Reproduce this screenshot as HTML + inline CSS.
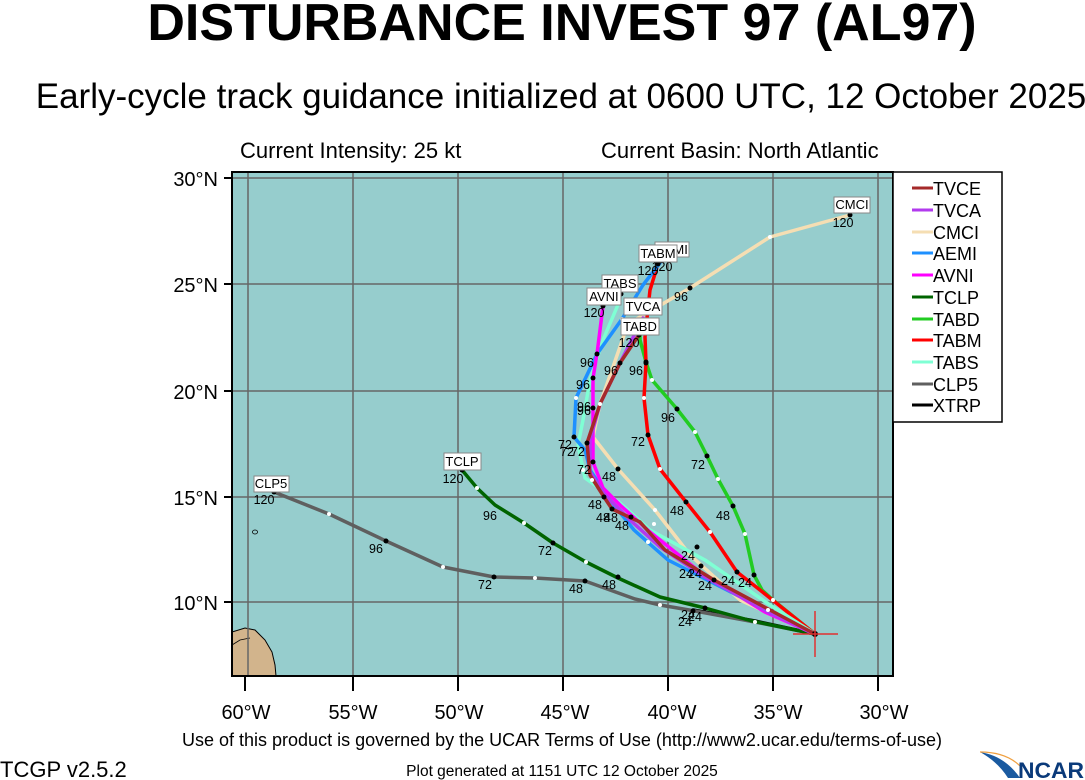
<!DOCTYPE html>
<html><head><meta charset="utf-8"><style>
html,body{margin:0;padding:0;background:#fff;}
svg{display:block;font-family:"Liberation Sans",Arial,sans-serif;}
</style></head><body>
<svg width="1085" height="780" viewBox="0 0 1085 780" xmlns="http://www.w3.org/2000/svg">
<rect width="1085" height="780" fill="#fff"/>
<text x="562" y="40" font-size="52" font-weight="bold" text-anchor="middle">DISTURBANCE INVEST 97 (AL97)</text>
<text x="561" y="108" font-size="35" text-anchor="middle">Early-cycle track guidance initialized at 0600 UTC, 12 October 2025</text>
<text x="240" y="158" font-size="22">Current Intensity: 25 kt</text>
<text x="601" y="158" font-size="22">Current Basin: North Atlantic</text>

<defs><clipPath id="m"><rect x="232" y="172" width="661" height="504"/></clipPath></defs>
<rect x="232" y="172" width="661" height="504" fill="#96cdcd"/>
<g clip-path="url(#m)">
<path d="M232,632 L245,628 L255,630 L265,640 L272,652 L275,665 L276,676 L232,676 Z" fill="#d2b48c" stroke="#000" stroke-width="1"/>
<path d="M232,645 L240,640 L250,638" fill="none" stroke="#000" stroke-width="0.8"/>
<ellipse cx="255" cy="532" rx="2.5" ry="2" fill="none" stroke="#000" stroke-width="0.8"/>
<g stroke="#666" stroke-width="1.5">
<line x1="248" y1="172" x2="248" y2="676"/><line x1="353" y1="172" x2="353" y2="676"/><line x1="458" y1="172" x2="458" y2="676"/><line x1="563" y1="172" x2="563" y2="676"/><line x1="668" y1="172" x2="668" y2="676"/><line x1="773" y1="172" x2="773" y2="676"/><line x1="878" y1="172" x2="878" y2="676"/>
<line x1="232" y1="178" x2="893" y2="178"/><line x1="232" y1="284" x2="893" y2="284"/><line x1="232" y1="391" x2="893" y2="391"/><line x1="232" y1="497" x2="893" y2="497"/><line x1="232" y1="602" x2="893" y2="602"/>
</g>
<g fill="none" stroke-width="3.5" stroke-linejoin="round" stroke-linecap="round">
<polyline stroke="#000" points="815,634 755,621 693,610"/>
<polyline stroke="#5f5f5f" points="815,634 755,622 695,611 660,605 635,599 585,581 535,578 494,577 443,567 386,541 329,514 274,492"/>
<polyline stroke="#006400" points="815,634 752,621 705,608 660,597 618,578 586,562 553,543 524,523 495,505 477,488 462,470"/>
<polyline stroke="#f5deb3" points="815,634 740,600 690,555 655,510 618,469 593,437 600,404 628,324 690,288 770,237 850,215"/>
<polyline stroke="#22cc22" points="815,634 773,600 762,590 754,575 745,534 733,506 718,479 707,456 695,432 677,409 652,380 646,362 640,340 640,327"/>
<polyline stroke="#ff0000" points="815,634 760,590 737,572 710,532 686,502 660,469 648,435 644,398 646,363 645,337 650,290 658,264"/>
<polyline stroke="#7fffd4" points="815,634 770,605 705,560 650,530 620,503 585,478 578,445 583,420 590,380 603,340 620,300"/>
<polyline stroke="#1e90ff" points="815,634 770,612 668,560 634,530 610,500 590,470 585,450 574,437 576,398 597,354 622,319 643,285 660,263"/>
<polyline stroke="#ff00ff" points="815,634 765,612 700,572 650,532 620,505 603,488 593,462 593,420 593,378 597,354 603,306"/>
<polyline stroke="#b23aee" points="815,634 768,612 705,577 660,547 630,520 605,495 590,472 590,440 600,404 620,363 643,318"/>
<polyline stroke="#a52a2a" points="815,634 770,610 714,580 665,550 640,522 612,509 604,497 590,475 587,443 600,404 620,363 639,335"/>
</g>
<g fill="#000">
<circle cx="815" cy="634" r="3"/>
<circle cx="705" cy="608" r="2.5"/><circle cx="618" cy="577" r="2.5"/><circle cx="553" cy="543" r="2.5"/><circle cx="462" cy="470" r="2.5"/>
<circle cx="693" cy="611" r="2.5"/><circle cx="585" cy="581" r="2.5"/><circle cx="494" cy="577" r="2.5"/><circle cx="386" cy="541" r="2.5"/><circle cx="274" cy="492" r="2.5"/>
<circle cx="690" cy="288" r="2.5"/><circle cx="850" cy="215" r="2.5"/><circle cx="618" cy="469" r="2.5"/><circle cx="697" cy="547" r="2.5"/>
<circle cx="754" cy="575" r="2.5"/><circle cx="733" cy="506" r="2.5"/><circle cx="707" cy="456" r="2.5"/><circle cx="677" cy="409" r="2.5"/><circle cx="646" cy="362" r="2.5"/><circle cx="640" cy="327" r="2.5"/>
<circle cx="737" cy="572" r="2.5"/><circle cx="686" cy="502" r="2.5"/><circle cx="648" cy="435" r="2.5"/><circle cx="646" cy="363" r="2.5"/><circle cx="658" cy="264" r="2.5"/>
<circle cx="701" cy="566" r="2.5"/><circle cx="714" cy="580" r="2.5"/><circle cx="631" cy="517" r="2.5"/><circle cx="612" cy="509" r="2.5"/><circle cx="587" cy="443" r="2.5"/><circle cx="620" cy="363" r="2.5"/><circle cx="639" cy="335" r="2.5"/>
<circle cx="574" cy="437" r="2.5"/><circle cx="593" cy="378" r="2.5"/><circle cx="597" cy="354" r="2.5"/><circle cx="593" cy="408" r="2.5"/><circle cx="593" cy="462" r="2.5"/><circle cx="603" cy="306" r="2.5"/><circle cx="621" cy="294" r="2.5"/><circle cx="604" cy="497" r="2.5"/>
</g>
<g fill="#fff">
<circle cx="660" cy="605" r="2"/><circle cx="535" cy="578" r="2"/><circle cx="443" cy="567" r="2"/><circle cx="329" cy="514" r="2"/><circle cx="586" cy="562" r="2"/><circle cx="524" cy="523" r="2"/><circle cx="477" cy="488" r="2"/>
<circle cx="655" cy="510" r="2"/><circle cx="600" cy="404" r="2"/><circle cx="770" cy="237" r="2"/><circle cx="652" cy="380" r="2"/><circle cx="695" cy="432" r="2"/><circle cx="718" cy="479" r="2"/><circle cx="745" cy="534" r="2"/>
<circle cx="660" cy="469" r="2"/><circle cx="644" cy="398" r="2"/><circle cx="710" cy="532" r="2"/><circle cx="648" cy="542" r="2"/><circle cx="654" cy="524" r="2"/><circle cx="576" cy="398" r="2"/><circle cx="622" cy="319" r="2"/><circle cx="583" cy="470" r="2"/><circle cx="592" cy="480" r="2"/>
<circle cx="773" cy="600" r="2"/><circle cx="768" cy="610" r="2"/><circle cx="755" cy="622" r="2"/>
</g>
<line x1="793" y1="634" x2="838" y2="634" stroke="#e03030" stroke-width="1.5"/>
<line x1="815" y1="611" x2="815" y2="657" stroke="#e03030" stroke-width="1.5"/>
<g font-size="12.5" fill="#000">
<text x="843" y="227" text-anchor="middle">120</text><text x="681" y="301" text-anchor="middle">96</text>
<text x="264" y="504" text-anchor="middle">120</text><text x="376" y="553" text-anchor="middle">96</text><text x="485" y="589" text-anchor="middle">72</text><text x="576" y="593" text-anchor="middle">48</text>
<text x="453" y="483" text-anchor="middle">120</text><text x="490" y="520" text-anchor="middle">96</text><text x="545" y="555" text-anchor="middle">72</text><text x="609" y="589" text-anchor="middle">48</text>
<text x="685" y="626" text-anchor="middle">24</text><text x="688" y="619" text-anchor="middle">24</text><text x="695" y="621" text-anchor="middle">24</text>
<text x="688" y="560" text-anchor="middle">24</text><text x="686" y="578" text-anchor="middle">24</text><text x="695" y="578" text-anchor="middle">24</text><text x="705" y="590" text-anchor="middle">24</text><text x="728" y="585" text-anchor="middle">24</text><text x="745" y="587" text-anchor="middle">24</text>
<text x="609" y="481" text-anchor="middle">48</text><text x="595" y="509" text-anchor="middle">48</text><text x="603" y="522" text-anchor="middle">48</text><text x="611" y="522" text-anchor="middle">48</text><text x="622" y="530" text-anchor="middle">48</text><text x="677" y="515" text-anchor="middle">48</text><text x="723" y="520" text-anchor="middle">48</text>
<text x="565" y="449" text-anchor="middle">72</text><text x="567" y="456" text-anchor="middle">72</text><text x="578" y="456" text-anchor="middle">72</text><text x="584" y="474" text-anchor="middle">72</text><text x="638" y="446" text-anchor="middle">72</text><text x="698" y="469" text-anchor="middle">72</text>
<text x="587" y="367" text-anchor="middle">96</text><text x="611" y="375" text-anchor="middle">96</text><text x="636" y="375" text-anchor="middle">96</text><text x="668" y="422" text-anchor="middle">96</text><text x="583" y="389" text-anchor="middle">96</text><text x="584" y="411" text-anchor="middle">96</text><text x="584" y="415" text-anchor="middle">96</text>
<text x="594" y="317" text-anchor="middle">120</text><text x="611" y="305" text-anchor="middle">120</text><text x="648" y="275" text-anchor="middle">120</text><text x="662" y="271" text-anchor="middle">120</text><text x="629" y="347" text-anchor="middle">120</text>
</g>
<g font-size="13" fill="#000">
<rect x="655" y="242" width="34" height="15" fill="#fff" stroke="#888"/><text x="672" y="254" text-anchor="middle">AEMI</text>
<rect x="639" y="245" width="38" height="17" fill="#fff" stroke="#888"/><text x="658" y="258" text-anchor="middle">TABM</text>
<rect x="602" y="275" width="36" height="17" fill="#fff" stroke="#888"/><text x="620" y="288" text-anchor="middle">TABS</text>
<rect x="587" y="288" width="34" height="17" fill="#fff" stroke="#888"/><text x="604" y="301" text-anchor="middle">AVNI</text>
<rect x="624" y="298" width="38" height="17" fill="#fff" stroke="#888"/><text x="643" y="311" text-anchor="middle">TVCA</text>
<rect x="621" y="318" width="38" height="17" fill="#fff" stroke="#888"/><text x="640" y="331" text-anchor="middle">TABD</text>
<rect x="834" y="197" width="36" height="16" fill="#fff" stroke="#888"/><text x="852" y="209" text-anchor="middle">CMCI</text>
<rect x="444" y="453" width="37" height="17" fill="#fff" stroke="#888"/><text x="462" y="466" text-anchor="middle">TCLP</text>
<rect x="254" y="476" width="35" height="16" fill="#fff" stroke="#888"/><text x="271" y="488" text-anchor="middle">CLP5</text>
</g>
</g>
<rect x="232" y="172" width="661" height="504" fill="none" stroke="#000" stroke-width="2"/>
<g stroke="#000" stroke-width="2">
<line x1="224" y1="178" x2="232" y2="178"/><line x1="224" y1="284" x2="232" y2="284"/><line x1="224" y1="391" x2="232" y2="391"/><line x1="224" y1="497" x2="232" y2="497"/><line x1="224" y1="602" x2="232" y2="602"/>
<line x1="245" y1="676" x2="245" y2="691"/><line x1="353" y1="676" x2="353" y2="691"/><line x1="458" y1="676" x2="458" y2="691"/><line x1="563" y1="676" x2="563" y2="691"/><line x1="668" y1="676" x2="668" y2="691"/><line x1="773" y1="676" x2="773" y2="691"/><line x1="878" y1="676" x2="878" y2="691"/>
</g>
<g font-size="20" fill="#000" text-anchor="end">
<text x="218" y="186">30°N</text><text x="218" y="292">25°N</text><text x="218" y="399">20°N</text><text x="218" y="505">15°N</text><text x="218" y="610">10°N</text>
</g>
<g font-size="20" fill="#000" text-anchor="middle">
<text x="246" y="719">60°W</text><text x="353" y="719">55°W</text><text x="459" y="719">50°W</text><text x="565" y="719">45°W</text><text x="672" y="719">40°W</text><text x="778" y="719">35°W</text><text x="884" y="719">30°W</text>
</g>
<rect x="893" y="172" width="109" height="250" fill="#fff" stroke="#000" stroke-width="1.5"/>
<g stroke-width="3">
<line x1="912" y1="188" x2="933" y2="188" stroke="#a52a2a"/>
<line x1="912" y1="210" x2="933" y2="210" stroke="#b23aee"/>
<line x1="912" y1="232" x2="933" y2="232" stroke="#f5deb3"/>
<line x1="912" y1="253" x2="933" y2="253" stroke="#1e90ff"/>
<line x1="912" y1="275" x2="933" y2="275" stroke="#ff00ff"/>
<line x1="912" y1="297" x2="933" y2="297" stroke="#006400"/>
<line x1="912" y1="319" x2="933" y2="319" stroke="#22cc22"/>
<line x1="912" y1="340" x2="933" y2="340" stroke="#ff0000"/>
<line x1="912" y1="362" x2="933" y2="362" stroke="#7fffd4"/>
<line x1="912" y1="384" x2="933" y2="384" stroke="#5f5f5f"/>
<line x1="912" y1="405" x2="933" y2="405" stroke="#000"/>
</g>
<g font-size="18" fill="#000">
<text x="933" y="195">TVCE</text><text x="933" y="217">TVCA</text><text x="933" y="239">CMCI</text><text x="933" y="260">AEMI</text><text x="933" y="282">AVNI</text><text x="933" y="304">TCLP</text><text x="933" y="326">TABD</text><text x="933" y="347">TABM</text><text x="933" y="369">TABS</text><text x="933" y="391">CLP5</text><text x="933" y="412">XTRP</text>
</g>
<text x="562" y="746" font-size="18" text-anchor="middle">Use of this product is governed by the UCAR Terms of Use (http://www2.ucar.edu/terms-of-use)</text>
<text x="0" y="777" font-size="22">TCGP v2.5.2</text>
<text x="562" y="776" font-size="15.5" text-anchor="middle">Plot generated at 1151 UTC   12 October 2025</text>
<path d="M980,752 Q1005,756 1020,778 L1008,778 Q998,762 980,752 Z" fill="#1a5aa0"/>
<path d="M980,752 Q1006,752 1020,766" fill="none" stroke="#f0a040" stroke-width="1.2"/>
<text x="1018" y="778" font-size="22" font-weight="bold" fill="#0a3a7a" textLength="66" lengthAdjust="spacingAndGlyphs">NCAR</text>
</svg>
</body></html>
